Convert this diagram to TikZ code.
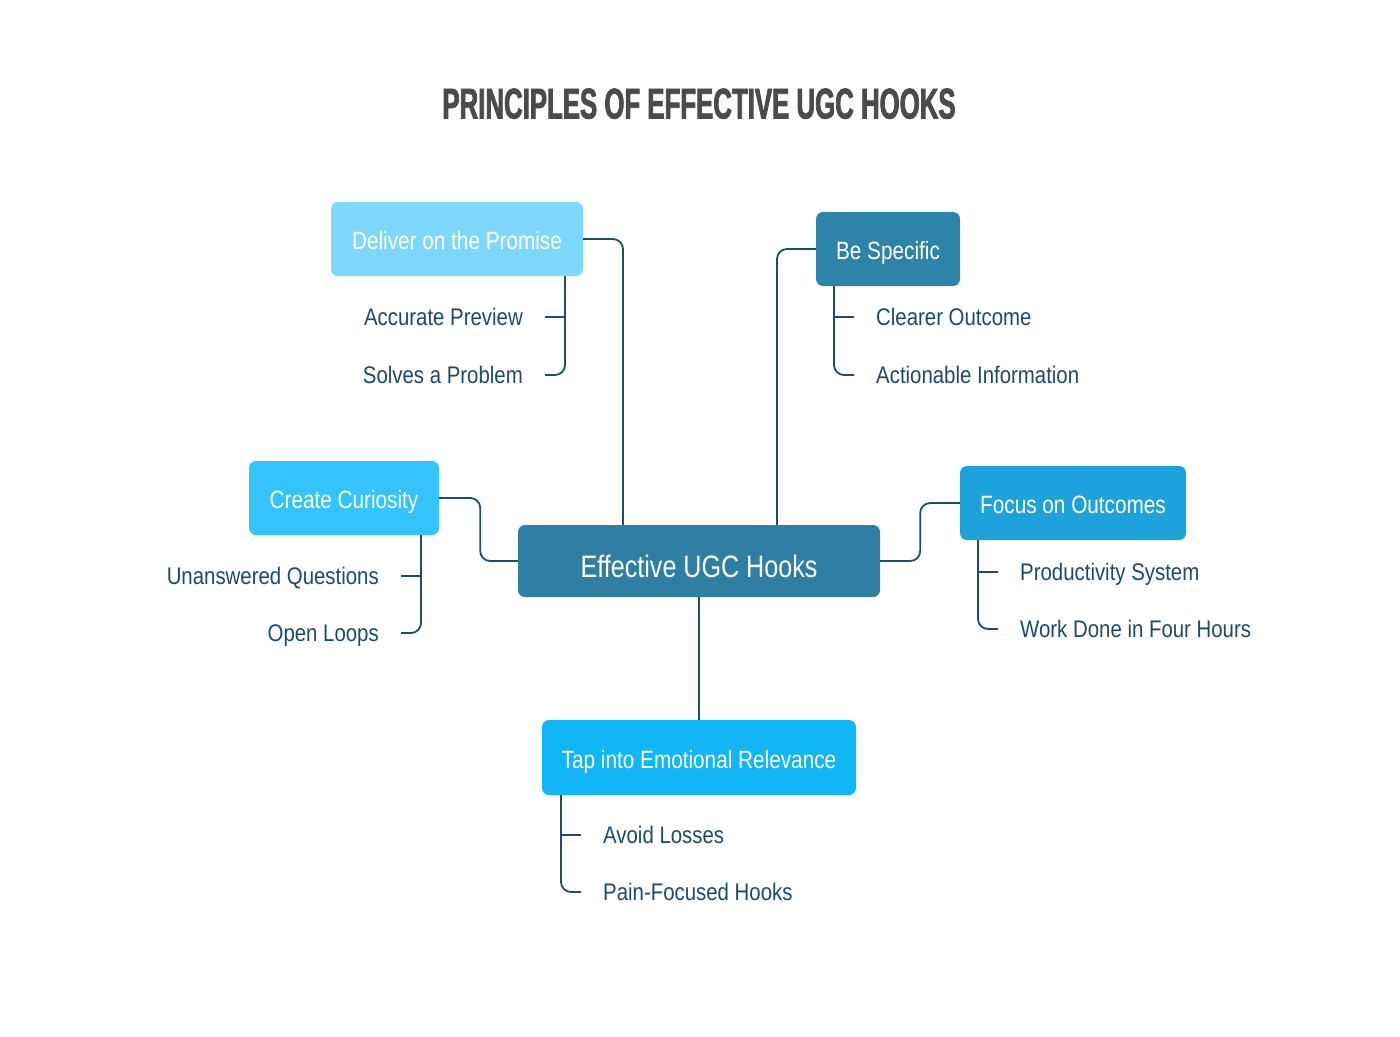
\documentclass[tikz,border=0pt]{standalone}
\usepackage{fontspec}
\setmainfont{Liberation Sans}
\newfontfamily\labfont[FakeStretch=0.85]{Liberation Sans}
\newfontfamily\boxfont[FakeStretch=0.83]{Liberation Sans}
\newfontfamily\cenfont[FakeStretch=0.81]{Liberation Sans}
\newfontfamily\ttlfont[FakeStretch=0.6,FakeBold=1.8]{Liberation Sans}
\definecolor{cmain}{HTML}{2F7FA4}
\definecolor{cspec}{HTML}{2E84A8}
\definecolor{cdeliv}{HTML}{7DD8FC}
\definecolor{ccur}{HTML}{35C3FB}
\definecolor{cfocus}{HTML}{1EA2DC}
\definecolor{ctap}{HTML}{12B6F6}
\definecolor{cline}{HTML}{1E4C6B}
\definecolor{ctext}{HTML}{1B4A6B}
\definecolor{ctitle}{HTML}{4B4B4B}
\begin{document}
\begin{tikzpicture}[x=1pt,y=-1pt,
  box/.style={rounded corners=7pt, inner sep=0pt, text=white,
    font=\boxfont\fontsize{25}{28}\selectfont, text height=21pt, text depth=0pt,
    minimum height=74pt},
  sub/.style={inner sep=0pt, text=ctext, font=\labfont\fontsize{24}{28}\selectfont,
    text height=17.2pt, text depth=0pt},
  conn/.style={draw=cline, line width=1.8pt, rounded corners=10pt}]
\useasboundingbox (0,0) rectangle (1400,1036);
\node[text=ctitle, font=\ttlfont\bfseries\fontsize{43}{48}\selectfont, inner sep=0pt,
  text height=31pt, text depth=0pt] (title) at (699,103) {PRINCIPLES OF EFFECTIVE UGC HOOKS};

\node[box, fill=cmain, minimum width=362pt, minimum height=72pt,
  font=\cenfont\fontsize{31}{34}\selectfont, text height=33pt] (center) at (699,561) {Effective UGC Hooks};
\node[box, fill=cdeliv, minimum width=252pt] (deliver) at (457,239) {Deliver on the Promise};
\node[box, fill=cspec, minimum width=144pt] (spec) at (888,249) {Be Specific};
\node[box, fill=ccur, minimum width=190pt] (cur) at (344,498) {Create Curiosity};
\node[box, fill=cfocus, minimum width=226pt] (focus) at (1073,503) {Focus on Outcomes};
\node[box, fill=ctap, minimum width=314pt, minimum height=75pt] (tap) at (699,757.5) {Tap into Emotional Relevance};

\node[sub, anchor=east] (dp1) at (523,317) {Accurate Preview};
\node[sub, anchor=east] (dp2) at (523,375) {Solves a Problem};
\node[sub, anchor=west] (bs1) at (876,317) {Clearer Outcome};
\node[sub, anchor=west] (bs2) at (876,375) {Actionable Information};
\node[sub, anchor=east] (cc1) at (379,576) {Unanswered Questions};
\node[sub, anchor=east] (cc2) at (379,633) {Open Loops};
\node[sub, anchor=west] (fo1) at (1020,572) {Productivity System};
\node[sub, anchor=west] (fo2) at (1020,629) {Work Done in Four Hours};
\node[sub, anchor=west] (tp1) at (603,835) {Avoid Losses};
\node[sub, anchor=west] (tp2) at (603,892) {Pain-Focused Hooks};

% main connectors
\draw[conn] (deliver.east) -| ([xshift=-76pt]center.north);
\draw[conn] (spec.west) -| ([xshift=78pt]center.north);
\draw[conn] (cur.east) -- ++(41,0) |- (center.west);
\draw[conn] (center.east) -- ++(40,0) |- (focus.west);
\draw[conn] (center.south) -- (tap.north);

% sub connectors
\draw[conn] ([xshift=108pt]deliver.south) |- ([xshift=22pt]dp2.east);
\draw[conn] ([xshift=22pt]dp1.east) -- ([xshift=42pt]dp1.east);
\draw[conn] ([xshift=-54pt]spec.south) |- ([xshift=-22pt]bs2.west);
\draw[conn] ([xshift=-22pt]bs1.west) -- ([xshift=-42pt]bs1.west);
\draw[conn] ([xshift=77pt]cur.south) |- ([xshift=22pt]cc2.east);
\draw[conn] ([xshift=22pt]cc1.east) -- ([xshift=42pt]cc1.east);
\draw[conn] ([xshift=-95pt]focus.south) |- ([xshift=-22pt]fo2.west);
\draw[conn] ([xshift=-22pt]fo1.west) -- ([xshift=-42pt]fo1.west);
\draw[conn] ([xshift=-138pt]tap.south) |- ([xshift=-22pt]tp2.west);
\draw[conn] ([xshift=-22pt]tp1.west) -- ([xshift=-42pt]tp1.west);
\end{tikzpicture}
\end{document}
